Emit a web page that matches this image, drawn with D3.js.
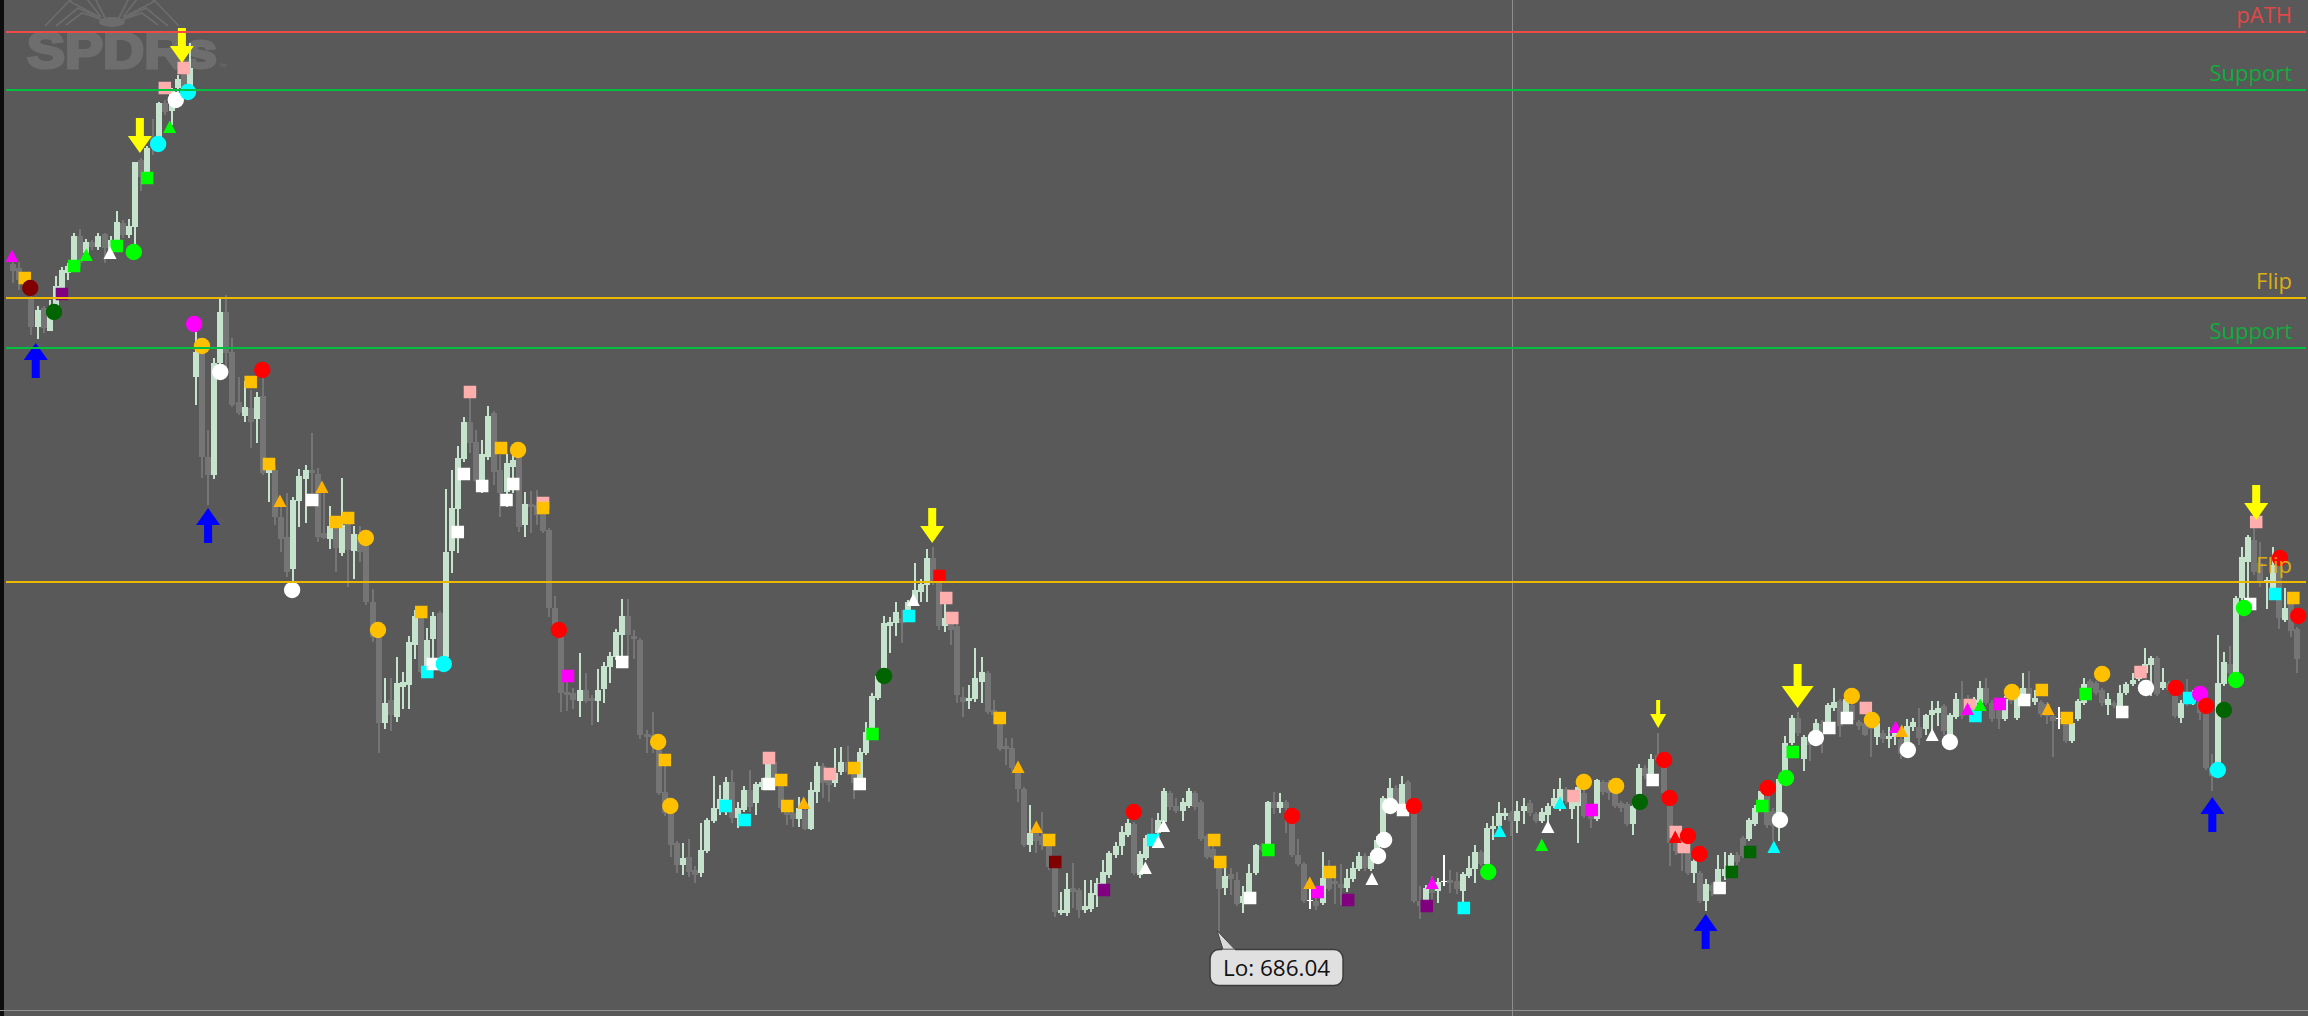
<!DOCTYPE html>
<html><head><meta charset="utf-8">
<script src="https://cdnjs.cloudflare.com/ajax/libs/d3/7.8.5/d3.min.js"></script>
<style>html,body{margin:0;padding:0;background:#595959;overflow:hidden}svg{display:block}</style>
</head><body><div id="chart"></div>
<script>
// candles: [open, high, low, close]
const ohlc = [
[752.7,752.9,750.8,752.0],[752.3,752.9,750.1,751.1],[751.1,751.5,749.8,750.4],[749.4,749.8,745.6,746.4],[746.4,748.5,745.2,748.1],[748.3,748.5,745.8,746.3],[746.0,749.1,746.0,748.3],[748.1,751.5,747.5,750.5],[750.1,752.4,749.3,752.1],[751.8,752.8,751.1,752.5],
[753.1,755.8,752.5,755.5],[755.5,756.2,752.4,752.8],[753.8,755.2,753.3,754.9],[754.9,755.1,754.1,754.4],[754.4,755.8,754.1,755.5],[755.7,755.8,752.8,754.3],[753.9,755.5,753.4,755.1],[755.0,758.0,754.6,756.9],[756.8,757.1,755.3,755.6],[755.6,757.2,755.3,756.5],
[756.4,762.9,754.6,762.9],[763.1,763.3,760.0,761.4],[761.8,764.5,761.3,764.3],[765.4,767.2,763.6,764.4],[765.4,768.9,764.1,768.8],[768.8,769.1,767.6,767.9],[768.0,770.3,766.6,770.1],[770.3,771.6,769.9,771.2],[772.3,773.1,770.1,770.4],[770.5,774.8,770.3,772.3],
[741.4,745.9,738.6,743.9],[743.8,744.4,731.3,733.4],[733.4,736.1,728.6,731.6],[731.6,743.3,731.2,742.8],[742.8,749.3,741.1,747.9],[747.9,749.6,742.1,743.8],[743.9,745.3,738.4,738.6],[738.9,741.4,737.6,737.8],[737.5,741.0,736.9,738.4],[738.3,740.1,734.3,736.9],
[737.2,739.9,734.8,739.4],[739.5,741.4,731.6,731.8],[731.8,732.9,728.9,732.2],[732.1,732.6,726.6,727.4],[727.4,728.4,723.9,725.2],[725.4,729.8,721.4,721.9],[722.2,729.4,720.9,729.1],[729.0,732.2,726.4,731.5],[731.2,732.6,726.8,732.1],[732.1,735.8,728.6,731.8],
[731.7,732.3,724.9,725.4],[725.8,730.1,725.2,725.3],[725.2,728.5,724.2,726.5],[726.4,727.4,721.9,724.3],[723.8,731.3,723.5,726.6],[726.9,727.8,720.4,724.1],[724.0,726.5,721.2,725.7],[725.7,726.5,722.9,723.9],[724.8,725.8,718.6,718.9],[718.9,720.2,714.9,715.4],
[715.4,716.8,703.8,706.8],[706.8,711.3,706.2,708.8],[709.1,711.3,706.0,707.6],[707.4,713.4,706.9,710.8],[710.4,711.9,708.2,710.9],[710.6,715.5,708.2,714.9],[714.6,718.1,713.2,717.5],[717.4,717.9,711.8,711.9],[712.4,716.3,712.1,715.1],[715.2,717.9,713.1,717.5],
[717.8,718.0,712.8,713.4],[713.4,730.2,713.1,723.9],[724.0,732.1,721.8,728.3],[728.2,734.5,723.8,733.3],[733.2,737.4,732.9,736.9],[736.9,739.9,733.8,734.8],[734.9,736.1,730.9,731.0],[731.1,735.1,729.8,733.7],[733.4,738.5,733.1,737.5],[737.8,738.0,730.6,731.9],
[732.1,733.6,727.4,729.8],[729.9,733.7,728.4,732.8],[732.4,733.6,729.8,733.1],[733.4,733.6,725.9,726.4],[726.6,729.9,725.4,728.7],[728.7,730.0,725.8,728.4],[728.6,730.1,726.6,727.6],[728.9,729.3,725.8,726.0],[726.1,726.3,717.4,718.3],[718.3,719.5,715.4,716.1],
[715.4,715.9,707.9,709.8],[709.9,711.5,708.0,709.6],[709.8,710.3,708.2,709.1],[709.0,713.8,707.4,710.1],[710.1,711.8,708.8,709.0],[709.3,709.6,706.6,709.0],[709.0,712.2,706.9,710.1],[710.2,712.9,708.8,712.5],[712.4,713.9,710.8,713.5],[713.4,716.2,713.1,715.9],
[715.6,719.2,713.1,717.5],[717.5,719.2,713.2,715.6],[715.5,716.1,713.2,715.2],[715.1,715.3,705.2,705.6],[705.7,706.1,703.8,705.4],[705.6,707.9,703.8,705.3],[705.4,705.6,699.6,699.8],[699.9,702.6,697.5,697.8],[697.8,698.0,693.4,694.6],[694.8,695.0,691.8,692.6],
[692.6,694.8,691.6,693.3],[693.4,695.2,691.4,691.9],[692.1,692.5,690.8,691.6],[691.8,696.8,691.4,694.1],[694.0,697.3,693.8,697.1],[697.0,701.5,696.8,698.3],[698.2,700.6,697.6,699.2],[697.9,701.4,697.6,700.9],[700.9,702.1,696.8,697.3],[697.3,698.9,696.3,698.3],
[698.1,700.5,697.9,700.1],[700.1,702.1,697.9,698.4],[698.8,700.9,697.6,700.7],[700.4,701.3,700.1,700.9],[700.8,703.4,700.5,702.8],[702.9,703.9,700.5,700.8],[700.9,701.1,698.1,698.3],[698.4,698.6,696.6,697.6],[697.8,698.1,696.4,697.2],[697.2,699.4,696.4,698.3],
[698.1,698.3,696.1,696.2],[696.2,700.9,696.1,700.1],[699.9,702.9,698.8,702.5],[702.5,702.8,699.3,700.8],[701.1,701.5,698.9,700.6],[700.8,704.3,700.4,701.8],[701.9,704.4,701.6,702.9],[702.9,704.5,701.6,701.9],[701.9,702.1,699.2,700.8],[701.1,704.3,700.8,703.9],
[703.8,706.9,703.6,705.9],[705.8,709.8,705.6,709.5],[709.3,711.7,709.1,711.5],[711.5,717.5,711.3,716.8],[716.5,717.4,713.8,716.9],[716.8,718.9,715.5,717.9],[717.3,718.1,714.8,716.8],[717.4,719.1,717.1,718.9],[718.8,722.8,718.5,720.1],[719.9,721.2,718.9,720.7],
[720.6,724.2,718.9,723.3],[723.3,724.4,720.6,720.9],[721.9,722.1,716.1,716.5],[716.5,719.4,715.9,717.3],[716.7,716.9,714.6,716.1],[716.5,716.7,708.8,709.6],[709.4,710.4,707.4,708.9],[709.0,710.6,708.2,709.3],[709.2,714.3,708.9,711.3],[710.9,713.4,708.8,711.9],
[711.8,712.0,707.7,707.9],[708.1,709.1,706.8,707.6],[707.3,707.5,704.0,704.2],[704.5,705.3,702.6,704.2],[704.3,705.3,702.0,702.3],[702.3,702.5,698.9,700.2],[700.2,700.4,694.4,694.6],[694.6,698.6,693.9,695.8],[695.8,696.5,693.8,695.0],[695.5,697.9,694.1,694.6],
[694.6,694.8,692.1,692.4],[692.4,692.6,687.4,687.9],[687.8,689.9,687.6,688.1],[687.8,691.8,687.5,690.2],[690.3,692.8,688.3,689.9],[690.1,690.3,687.3,688.1],[688.1,691.1,687.8,688.5],[688.2,691.1,687.9,689.8],[689.6,691.3,688.4,690.8],[690.6,693.1,690.3,691.9],
[691.6,694.0,691.3,693.8],[693.6,694.9,693.3,694.5],[694.5,696.5,693.6,695.9],[695.6,697.2,695.4,696.8],[696.7,696.9,691.6,691.8],[691.6,694.0,691.3,693.7],[693.3,695.6,693.1,695.3],[695.6,697.3,694.5,695.1],[695.8,697.8,695.5,697.1],[696.9,700.3,696.7,700.0],
[699.8,700.0,698.1,698.4],[698.5,699.3,697.8,698.0],[698.0,699.3,697.0,698.9],[698.5,700.3,698.3,700.0],[699.8,700.0,698.1,698.4],[698.9,699.1,695.0,695.2],[695.5,695.7,693.2,693.4],[694.2,694.5,693.1,693.3],[693.3,693.5,686.04,690.2],[690.3,693.2,689.6,691.5],
[691.7,692.3,689.6,691.2],[691.1,691.9,688.5,688.7],[688.8,690.5,687.8,689.5],[689.3,692.7,689.1,691.8],[691.8,694.7,691.6,694.6],[694.5,694.8,693.9,694.1],[694.5,699.0,694.3,698.9],[698.9,699.9,697.7,698.3],[698.3,699.8,697.8,698.9],[698.9,699.1,695.8,698.3],
[697.5,697.7,693.4,693.6],[693.6,695.2,692.5,692.7],[692.7,692.9,688.8,689.0],[689.1,690.3,688.2,689.1],[689.0,690.1,688.1,688.5],[688.8,693.9,688.6,691.3],[691.9,693.1,690.0,690.2],[691.0,692.5,688.7,690.7],[690.7,692.7,688.6,690.3],[690.3,692.2,689.9,691.3],
[691.2,692.9,690.9,692.3],[692.2,693.9,692.0,693.5],[693.5,693.8,692.0,692.3],[692.2,693.8,692.0,693.5],[693.3,695.5,693.1,695.1],[695.1,699.5,694.9,699.3],[698.5,701.3,698.3,700.3],[700.3,700.6,698.3,698.5],[698.5,701.5,698.3,700.7],[700.9,701.1,698.3,698.5],
[698.5,698.7,688.8,689.0],[689.0,690.5,687.2,688.5],[688.5,690.6,688.3,690.3],[690.7,691.5,689.1,689.8],[690.0,691.3,688.8,690.9],[691.0,693.6,690.5,691.0],[691.1,692.1,689.8,690.8],[691.0,691.9,689.7,690.2],[690.0,691.9,688.8,691.7],[691.5,693.5,691.3,692.3],
[692.2,694.6,690.8,693.9],[693.9,694.1,692.5,692.7],[692.7,696.8,692.5,696.3],[696.2,697.5,695.1,696.5],[696.5,698.9,696.3,697.8],[697.5,698.3,697.1,697.8],[697.8,698.0,695.5,697.0],[697.0,699.0,695.8,698.0],[698.0,699.3,696.7,698.5],[698.8,699.1,697.5,697.8],
[697.7,697.9,696.8,697.0],[697.0,698.3,696.8,697.9],[697.6,698.8,696.5,698.5],[698.5,700.2,698.3,699.3],[698.3,701.3,698.0,700.2],[700.2,700.4,698.7,699.0],[698.2,699.2,697.2,699.0],[698.5,700.8,694.8,700.4],[699.8,700.1,697.3,697.5],[698.2,698.4,696.3,697.2],
[697.2,701.2,697.0,701.1],[700.9,701.1,699.6,699.9],[700.9,701.1,699.1,699.8],[699.8,700.0,698.3,698.5],[698.8,699.0,697.9,698.3],[698.7,698.9,696.5,696.7],[696.7,698.8,695.6,698.5],[699.5,702.7,699.3,702.3],[702.3,702.6,701.2,701.5],[701.7,703.7,701.4,703.2],
[703.6,705.8,702.8,703.1],[702.8,703.1,699.6,699.8],[698.5,698.7,692.5,694.8],[694.8,695.1,693.6,694.0],[694.8,695.3,692.0,694.0],[694.7,694.9,691.6,691.8],[691.8,693.3,690.8,693.0],[691.8,692.0,688.8,689.0],[689.0,691.2,688.0,690.7],[690.6,690.8,689.5,690.0],
[690.8,693.6,690.5,692.2],[691.5,693.9,691.1,692.2],[692.5,693.8,692.1,693.6],[693.6,693.9,692.6,692.9],[695.3,695.5,693.3,693.5],[695.2,697.3,695.0,697.1],[696.7,698.6,696.5,698.3],[698.3,700.2,698.1,700.0],[699.5,699.7,696.3,696.6],[698.0,698.3,695.0,696.5],
[696.8,701.4,695.0,701.2],[701.2,705.5,700.9,704.8],[704.8,707.6,704.6,707.3],[707.3,707.9,705.5,705.8],[703.2,705.6,702.0,705.4],[705.1,705.6,703.0,704.6],[705.3,707.2,705.0,706.8],[706.7,707.1,703.8,706.0],[706.7,708.8,706.4,708.6],[708.3,710.3,708.0,708.9],
[709.0,709.2,705.4,706.5],[707.5,709.4,707.1,709.2],[708.6,709.0,706.8,707.1],[706.9,707.1,706.1,706.5],[706.8,707.1,705.5,705.6],[707.2,707.4,703.4,706.2],[705.4,707.2,704.6,706.8],[705.8,706.1,704.8,705.2],[705.2,706.4,704.3,705.5],[705.4,706.6,704.6,705.8],
[705.2,705.5,703.2,703.7],[704.7,707.2,704.4,706.5],[706.4,707.3,706.0,706.9],[706.4,708.3,704.6,705.3],[706.2,707.7,705.6,707.6],[707.6,709.0,705.5,708.1],[707.8,709.0,706.5,708.3],[708.5,708.7,705.6,706.0],[705.5,707.8,705.3,707.6],[707.4,709.8,707.2,709.2],
[709.2,711.0,707.2,707.5],[709.1,709.6,707.9,708.1],[707.9,709.4,707.6,709.1],[708.8,711.0,708.6,710.3],[710.3,711.3,708.6,708.8],[708.8,709.1,706.9,707.2],[709.1,709.3,706.2,707.2],[707.2,709.5,707.0,709.2],[710.0,710.2,708.7,709.0],[707.3,710.0,707.1,709.8],
[709.5,711.8,709.3,710.3],[710.3,712.0,708.9,709.2],[708.9,710.1,708.6,709.3],[708.9,709.1,707.4,707.7],[708.7,708.9,706.7,707.5],[707.5,707.7,703.4,707.0],[707.3,708.4,706.2,707.3],[707.2,707.4,704.8,705.0],[705.0,707.1,704.8,706.8],[707.2,709.2,707.0,709.0],
[708.8,711.3,708.6,710.7],[711.0,711.2,710.1,710.3],[710.8,711.0,709.6,709.8],[710.1,710.3,708.5,708.8],[708.6,709.8,707.6,709.2],[708.8,709.0,708.3,708.5],[708.5,710.6,708.3,709.8],[709.8,710.9,709.6,710.7],[710.7,711.8,710.5,711.1],[711.2,712.3,711.0,712.2],
[711.8,714.3,711.6,712.7],[712.6,713.5,709.5,713.3],[713.3,713.5,709.5,709.7],[710.3,712.3,710.1,710.9],[710.8,711.0,709.9,710.1],[709.5,709.7,707.3,707.5],[707.3,709.1,706.8,708.8],[709.5,711.2,708.5,708.8],[708.9,710.1,708.6,709.9],[708.9,709.1,707.1,707.8],
[707.8,708.0,702.1,702.3],[702.3,703.7,700.0,701.5],[702.5,715.6,702.3,710.8],[710.7,713.9,710.5,712.9],[712.7,714.5,711.6,711.8],[711.7,719.5,711.5,719.3],[719.3,724.4,719.1,723.4],[722.9,725.6,719.1,725.4],[725.1,726.3,721.6,721.9],[722.8,724.9,720.4,720.9],
[720.9,721.4,718.2,721.1],[720.1,724.4,719.9,722.6],[722.6,722.8,716.2,717.3],[717.1,720.3,716.9,718.3],[718.8,719.0,715.4,716.0],[716.2,716.4,711.8,713.2]
];

// signal markers: [candle position, price, signal kind]
const circleSignals = [
[2.8,750.3,'darkred'],[6.7,747.9,'darkgreen'],[19.8,753.9,'green'],[23.8,764.7,'cyan'],[26.7,769.1,'white'],[28.7,769.9,'cyan'],[29.7,746.7,'magenta'],[31.0,744.5,'gold'],[34.0,741.9,'white'],[40.9,742.1,'red'],
[57.9,725.3,'gold'],[45.8,720.1,'white'],[59.9,716.1,'gold'],[70.7,712.7,'cyan'],[82.9,734.1,'gold'],[89.6,716.1,'red'],[105.9,704.9,'gold'],[107.9,698.5,'gold'],[143.0,711.5,'darkgreen'],[184.0,697.9,'red'],
[210.0,697.5,'red'],[224.1,693.5,'white'],[225.1,695.1,'white'],[226.1,698.5,'white'],[230.0,698.5,'red'],[242.2,691.9,'green'],[257.9,700.9,'gold'],[263.2,700.5,'gold'],[267.1,698.9,'darkgreen'],[271.1,703.1,'red'],
[272.0,699.3,'red'],[275.0,695.5,'red'],[276.9,693.7,'red'],[288.1,700.3,'red'],[291.1,701.3,'green'],[290.1,697.1,'white'],[296.0,705.3,'white'],[301.9,709.5,'gold'],[305.2,707.1,'gold'],[311.1,704.1,'white'],
[318.0,704.9,'white'],[328.2,709.9,'gold'],[343.0,711.7,'gold'],[350.2,710.3,'white'],[355.1,710.3,'red'],[359.1,709.7,'magenta'],[360.1,708.5,'red'],[363.0,708.1,'darkgreen'],[362.0,702.1,'cyan'],[365.0,711.1,'green'],
[366.3,718.3,'green'],[372.2,723.3,'red'],[375.2,717.5,'red']
];
const squareSignals = [
[1.9,751.3,'gold'],[8.0,749.7,'purple'],[10.0,752.5,'green'],[17.0,754.5,'green'],[22.0,761.3,'green'],[24.9,770.3,'pink'],[28.0,772.3,'pink'],[39.0,740.9,'gold'],[75.0,739.9,'pink'],[42.0,732.7,'gold'],
[49.1,729.1,'white'],[53.0,726.9,'gold'],[55.0,727.3,'gold'],[67.0,717.9,'gold'],[68.0,711.9,'cyan'],[68.9,712.7,'white'],[73.0,725.9,'white'],[74.0,731.7,'white'],[77.0,730.5,'white'],[80.1,734.3,'gold'],
[82.1,730.7,'white'],[81.0,729.1,'white'],[87.0,728.8,'pink'],[87.0,728.3,'gold'],[91.1,711.5,'magenta'],[100.0,712.9,'white'],[107.0,703.1,'gold'],[117.0,698.5,'cyan'],[120.1,697.1,'cyan'],[124.1,703.3,'pink'],
[124.1,700.7,'white'],[126.1,701.1,'gold'],[127.1,698.5,'gold'],[134.1,701.7,'pink'],[138.1,702.3,'gold'],[139.0,700.7,'white'],[141.1,705.7,'green'],[147.1,717.5,'cyan'],[152.1,721.5,'red'],[153.2,719.3,'pink'],
[154.2,717.3,'pink'],[162.0,707.3,'gold'],[170.1,695.1,'gold'],[171.1,692.9,'darkred'],[179.1,690.1,'purple'],[187.2,695.1,'cyan'],[197.2,695.1,'gold'],[198.2,692.9,'gold'],[203.1,689.3,'white'],[206.1,694.1,'green'],
[214.2,689.9,'magenta'],[216.2,691.9,'gold'],[219.2,689.1,'purple'],[228.2,698.1,'white'],[232.1,688.5,'purple'],[238.2,688.3,'cyan'],[256.2,699.5,'pink'],[259.2,698.1,'magenta'],[269.2,701.1,'white'],[273.0,695.9,'pink'],
[274.3,694.4,'pink'],[280.2,690.3,'white'],[282.2,691.9,'darkgreen'],[285.2,693.9,'darkgreen'],[287.2,698.5,'green'],[292.2,703.9,'green'],[298.2,706.3,'white'],[301.1,707.3,'white'],[304.2,708.3,'pink'],[321.3,708.6,'pink'],
[322.2,707.5,'cyan'],[326.2,708.7,'magenta'],[330.2,709.1,'white'],[333.1,710.1,'gold'],[337.2,707.3,'gold'],[340.3,709.7,'green'],[346.3,707.9,'white'],[349.3,711.9,'pink'],[357.3,709.3,'cyan'],[368.3,726.9,'pink'],
[367.3,718.7,'white'],[371.4,719.7,'cyan'],[374.4,719.3,'gold']
];
const triangleSignals = [
[-0.2,753.5,'magenta'],[12.0,753.6,'green'],[15.9,753.8,'white'],[25.7,766.4,'green'],[43.8,729.0,'amber'],[50.7,730.4,'amber'],[129.8,698.8,'amber'],[147.8,719.1,'white'],[165.0,702.4,'amber'],[168.0,696.4,'amber'],
[185.9,692.3,'white'],[188.0,694.9,'white'],[188.9,696.5,'white'],[212.9,690.8,'amber'],[223.1,691.2,'white'],[233.0,690.8,'magenta'],[244.1,696.0,'cyan'],[251.0,694.6,'green'],[252.0,696.4,'white'],[254.0,698.8,'cyan'],
[272.9,695.4,'red'],[289.1,694.4,'cyan'],[309.1,706.4,'magenta'],[310.1,706.0,'amber'],[315.1,705.6,'white'],[320.9,708.2,'magenta'],[323.0,708.6,'green'],[334.1,708.2,'amber']
];
// big arrows: [candle position, price at the tip, size class]
const sellArrows = [[20.8,763.8,'m'],[27.7,772.8,'m'],[150.9,724.8,'m'],[293.0,708.3,'l'],[270.1,706.3,'s'],[368.3,727.1,'m']];
const buyArrows = [[3.7,744.8,'m'],[32.0,728.3,'m'],[277.9,687.7,'m'],[361.1,699.4,'m']];

const levelPrices = [775.9,770.1,749.3,744.3,720.9];
const levelKinds = ['pATH','Support','Flip','Support','Flip'];
const lowPrice = 686.04;
const lowIndex = 198;
const crosshairIndex = 246.2;

const W = 2308, H = 1016;
const palette = {gold:'#ffc000',amber:'#ffb300',red:'#ff0000',green:'#00ff00',darkgreen:'#006400',darkred:'#800000',purple:'#800080',magenta:'#ff00ff',cyan:'#00ffff',white:'#ffffff',pink:'#ffaeae'};
const levelLine = {pATH:'#ee4a4a',Support:'#00c040',Flip:'#ecb800'};
const levelText = {pATH:'#e04848',Support:'#10ac3c',Flip:'#dcae12'};

const x = d3.scaleLinear().domain([0, ohlc.length-1]).range([13.2, 2297]);
const y = d3.scaleLinear().domain([677.5, 779.1]).range([H, 0]);

const svg = d3.select('#chart').append('svg').attr('width',W).attr('height',H);
svg.append('rect').attr('width',W).attr('height',H).attr('fill','#595959');
svg.append('rect').attr('width',4).attr('height',H).attr('fill','#0d0d0d');

// watermark logo
const defs = svg.append('defs');
defs.append('filter').attr('id','soft').append('feGaussianBlur').attr('stdDeviation',0.7);
const logo = svg.append('g').attr('fill','none').attr('stroke','#6c6c6c').attr('stroke-width',1.7).attr('filter','url(#soft)');
logo.append('ellipse').attr('cx',112).attr('cy',22).attr('rx',13).attr('ry',5).attr('fill','#6c6c6c').attr('stroke','none');
[[45,26,69,1,100,17],[56,26,78,8,101,19],[66,25,82,13,103,20],[69,1,83,-6,101,17],[84,-2,93,-6,105,18]].forEach(p=>{
  logo.append('path').attr('d',`M${p[0]},${p[1]}L${p[2]},${p[3]}L${p[4]},${p[5]}`);
  const m=v=>224-v;
  logo.append('path').attr('d',`M${m(p[0])},${p[1]}L${m(p[2])},${p[3]}L${m(p[4])},${p[5]}`);
});
const logoText = svg.append('g').attr('filter','url(#soft)');
logoText.append('text').text('SPDRs').attr('x',27).attr('y',68).attr('textLength',190).attr('lengthAdjust','spacingAndGlyphs')
  .attr('font-family','Liberation Sans').attr('font-weight',700).attr('font-size',50).attr('fill','#6e6e6e').attr('stroke','#6e6e6e').attr('stroke-width',3);
logoText.append('text').text('™').attr('x',218).attr('y',70).attr('font-family','Liberation Sans').attr('font-size',9).attr('fill','#6e6e6e');

// crosshair and bottom rule
svg.append('line').attr('x1',x(crosshairIndex)).attr('x2',x(crosshairIndex)).attr('y1',0).attr('y2',H).attr('stroke','#8e8e8e').attr('stroke-width',1).attr('shape-rendering','crispEdges');
svg.append('line').attr('x1',0).attr('x2',W).attr('y1',1010.5).attr('y2',1010.5).attr('stroke','#909090').attr('stroke-width',1).attr('shape-rendering','crispEdges');

// candles
const candle = svg.append('g').attr('shape-rendering','crispEdges').selectAll('g').data(ohlc).join('g');
const colorOf = d => d[0]===d[3] ? '#ffffff' : d[3]>d[0] ? '#c5e3cd' : '#757575';
candle.append('line').attr('x1',(d,i)=>Math.round(x(i))).attr('x2',(d,i)=>Math.round(x(i)))
  .attr('y1',d=>y(d[1])).attr('y2',d=>y(d[2])).attr('stroke',colorOf).attr('stroke-width',2);
candle.append('rect').attr('x',(d,i)=>Math.round(x(i))-3).attr('width',6)
  .attr('y',d=>y(Math.max(d[0],d[3])))
  .attr('height',d=>d[0]===d[3]?1:Math.max(1,Math.abs(y(d[0])-y(d[3]))))
  .attr('fill',colorOf);

// markers
const marks = svg.append('g');
marks.selectAll('rect.sq').data(squareSignals).join('rect').attr('class','sq')
  .attr('x',d=>x(d[0])-6.25).attr('y',d=>y(d[1])-6.25).attr('width',12.5).attr('height',12.5).attr('fill',d=>palette[d[2]]);
marks.selectAll('polygon.tr').data(triangleSignals).join('polygon').attr('class','tr')
  .attr('points',d=>{const a=x(d[0]),b=y(d[1]);return `${a},${b-6.5} ${a+6.5},${b+6} ${a-6.5},${b+6}`;}).attr('fill',d=>palette[d[2]]);
marks.selectAll('circle').data(circleSignals).join('circle')
  .attr('cx',d=>x(d[0])).attr('cy',d=>y(d[1])).attr('r',8.2).attr('fill',d=>palette[d[2]]);

const arrowSize = {s:{len:28,head:14,hw:8,sw:2},m:{len:35,head:17,hw:12,sw:4},l:{len:44,head:22,hw:16,sw:4}};
function arrowPath(d,dir){
  const a=x(d[0]),t=y(d[1]),s=arrowSize[d[2]];
  const h=t+dir*s.head,e=t+dir*s.len;
  return `M${a},${t}L${a+s.hw},${h}L${a+s.sw},${h}L${a+s.sw},${e}L${a-s.sw},${e}L${a-s.sw},${h}L${a-s.hw},${h}Z`;
}
marks.selectAll('path.sell').data(sellArrows).join('path').attr('class','sell').attr('d',d=>arrowPath(d,-1)).attr('fill','#ffff00');
marks.selectAll('path.buy').data(buyArrows).join('path').attr('class','buy').attr('d',d=>arrowPath(d,1)).attr('fill','#0000ff');

// level lines and labels
const lv = levelPrices.map((p,i)=>({p,k:levelKinds[i]}));
svg.append('g').selectAll('line').data(lv).join('line')
  .attr('x1',6).attr('x2',2306).attr('y1',d=>y(d.p)).attr('y2',d=>y(d.p))
  .attr('stroke',d=>levelLine[d.k]).attr('stroke-width',1.8);
svg.append('g').selectAll('text').data(lv).join('text').text(d=>d.k)
  .attr('x',2292).attr('y',d=>y(d.p)-9.5).attr('text-anchor','end')
  .attr('font-family','Open Sans').attr('font-size',22).attr('fill',d=>levelText[d.k]);

// low callout
const lx = x(lowIndex), ly = y(lowPrice);
const tip = svg.append('g');
tip.append('path').attr('d',`M${lx-2},${ly}L${lx+4},${ly+19}L${lx+16},${ly+19}Z`).attr('fill','#d9d9d9').attr('stroke','#444').attr('stroke-width',1);
tip.append('rect').attr('x',lx-9).attr('y',ly+19).attr('width',133).attr('height',36).attr('rx',9).attr('fill','#e0e0e0').attr('stroke','#3c3c3c').attr('stroke-width',1.5);
tip.append('path').attr('d',`M${lx+3},${ly+20}L${lx+16},${ly+20}`).attr('stroke','#e0e0e0').attr('stroke-width',2);
tip.append('text').text('Lo: '+lowPrice.toFixed(2)).attr('x',lx+57.5).attr('y',ly+45).attr('text-anchor','middle')
  .attr('font-family','Open Sans').attr('font-size',22.5).attr('fill','#111');
</script></body></html>
